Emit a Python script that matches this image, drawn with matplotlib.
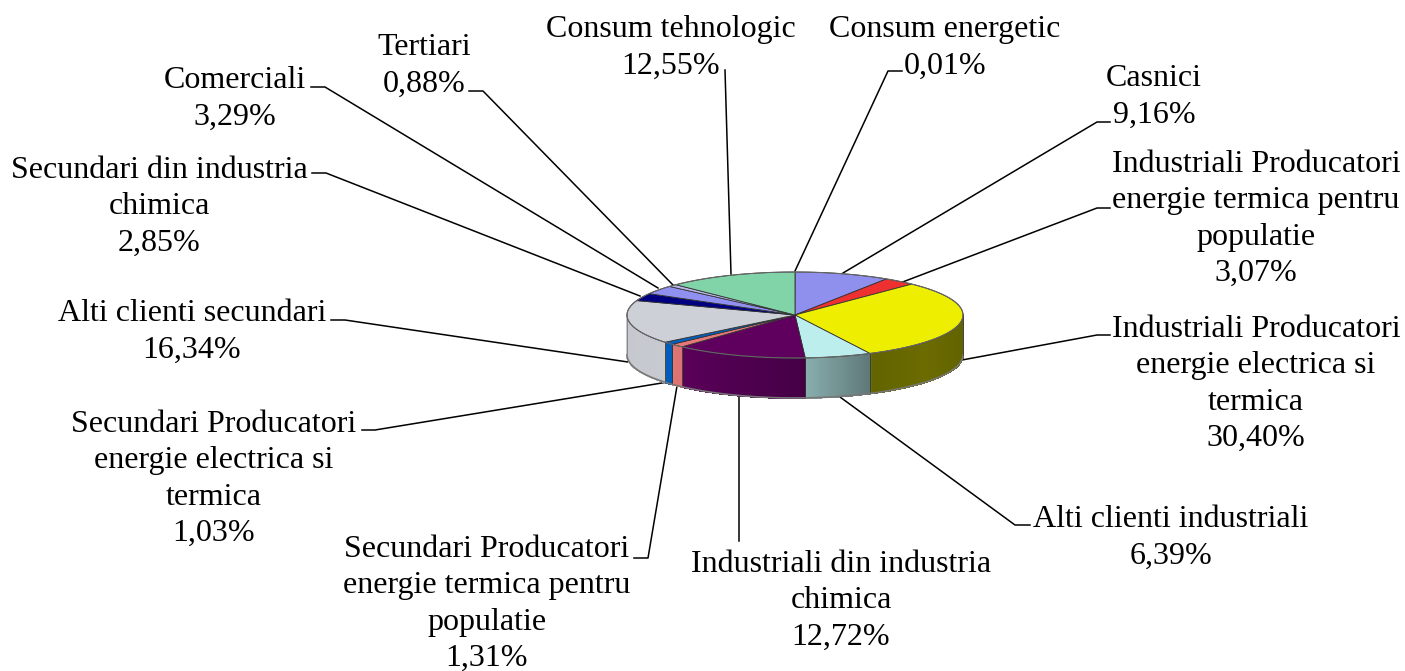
#!/usr/bin/env python3
"""3D-looking pie of gas consumption shares, drawn by hand on pixel axes."""
import matplotlib
matplotlib.use("Agg")
import matplotlib.pyplot as plt
import numpy as np
from matplotlib.colors import to_rgb

plt.rcParams["font.family"] = ["Liberation Serif", "DejaVu Serif"]

# clockwise from 12 o'clock
labels = [
    "Consum energetic\n0,01%", "Casnici\n9,16%",
    "Industriali Producatori\nenergie termica pentru\npopulatie\n3,07%",
    "Industriali Producatori\nenergie electrica si\ntermica\n30,40%",
    "Alti clienti industriali\n6,39%",
    "Industriali din industria\nchimica\n12,72%",
    "Secundari Producatori\nenergie termica pentru\npopulatie\n1,31%",
    "Secundari Producatori\nenergie electrica si\ntermica\n1,03%",
    "Alti clienti secundari\n16,34%",
    "Secundari din industria\nchimica\n2,85%",
    "Comerciali\n3,29%", "Tertiari\n0,88%", "Consum tehnologic\n12,55%",
]
values = [0.01, 9.16, 3.07, 30.40, 6.39, 12.72, 1.31, 1.03, 16.34, 2.85, 3.29, 0.88, 12.55]
colors = ["#333333", "#8F8FEE", "#EE3030", "#EEEE00", "#BCEEEE", "#5F005F", "#E87878",
          "#0060C0", "#CDD0D6", "#000080", "#9090F0", "#B8B8E8", "#80D4A8"]
label_pos = [(945, 48), (1154, 97), (1256, 219), (1256, 384), (1171, 538), (841, 601),
             (487, 604), (214, 479), (192, 332), (159, 207), (235, 99), (424, 66), (671, 48)]
leaders = [
    [(795, 271), (888, 71), (902, 71)],
    [(843, 273), (1097, 122), (1110, 122)],
    [(900, 283), (1097, 208), (1110, 208)],
    [(962, 360), (1097, 335), (1110, 335)],
    [(840, 397), (1015, 525), (1030, 525)],
    [(739, 397), (739, 541)],
    [(677, 386), (648, 558), (634, 558)],
    [(668, 382), (375, 430), (362, 430)],
    [(628, 362), (345, 320), (331, 320)],
    [(640, 296), (326, 173), (312, 173)],
    [(658, 288), (325, 87), (311, 87)],
    [(673, 285), (483, 91), (469, 91)],
    [(731, 274), (725, 70)],
]

CX, CY, RX, RY, DEPTH = 795, 315, 168, 43, 40


def rim(t):
    t = np.radians(t)
    return CX + RX * np.sin(t), CY - RY * np.cos(t)


def shade(t):
    return np.interp(t, [90, 130, 153, 153.6, 176, 227, 270], [0.40, 0.45, 0.42, 0.5, 0.72, 0.97, 0.96])


fig = plt.figure(figsize=(14.05, 6.71), dpi=100)
ax = fig.add_axes([0, 0, 1, 1])
ax.set_xlim(0, 1405)
ax.set_ylim(671, 0)
ax.axis("off")

edges = np.cumsum([0] + values) / sum(values) * 360

for k in range(len(values)):
    lo, hi = max(edges[k], 90), min(edges[k + 1], 270)
    if hi <= lo:
        continue
    base = np.array(to_rgb(colors[k]))
    ticks = np.linspace(lo, hi, max(int((hi - lo) * 2), 2) + 1)
    for a, b in zip(ticks[:-1], ticks[1:]):
        x, y = rim(np.array([a, b]))
        ax.fill([x[0], x[1], x[1], x[0]], [y[0], y[1], y[1] + DEPTH, y[0] + DEPTH],
                color=base * shade((a + b) / 2), lw=0.8, antialiased=False, zorder=2)
    x, y = rim(np.array([lo, lo]))
    ax.plot(x, [y[0], y[0] + DEPTH], color="#333333", lw=0.6, zorder=3)

t = np.linspace(90, 270, 200)
x, y = rim(t)
ax.plot(x, y + DEPTH, color="#777777", lw=1.2, zorder=3)
ax.plot([CX + RX, CX + RX], [CY, CY + DEPTH], color="#444444", lw=0.7, zorder=3)
ax.plot([CX - RX, CX - RX], [CY, CY + DEPTH], color="#888888", lw=0.7, zorder=3)

for k in range(len(values)):
    t = np.linspace(edges[k], edges[k + 1], max(int(values[k] * 4), 2))
    x, y = rim(t)
    ax.fill(np.r_[CX, x], np.r_[CY, y], facecolor=colors[k], edgecolor="#333333", lw=0.6, zorder=4)
x, y = rim(np.linspace(0, 360, 400))
ax.plot(x, y, color="#666666", lw=0.8, zorder=5)

for pts in leaders:
    xs, ys = zip(*pts)
    ax.plot(xs, ys, color="black", lw=1.1, zorder=1)

for lab, (x, y) in zip(labels, label_pos):
    ax.text(x, y, lab, fontsize=23, ha="center", va="center", linespacing=1.33, color="black", zorder=6)

fig.savefig("out.png", dpi=100)
